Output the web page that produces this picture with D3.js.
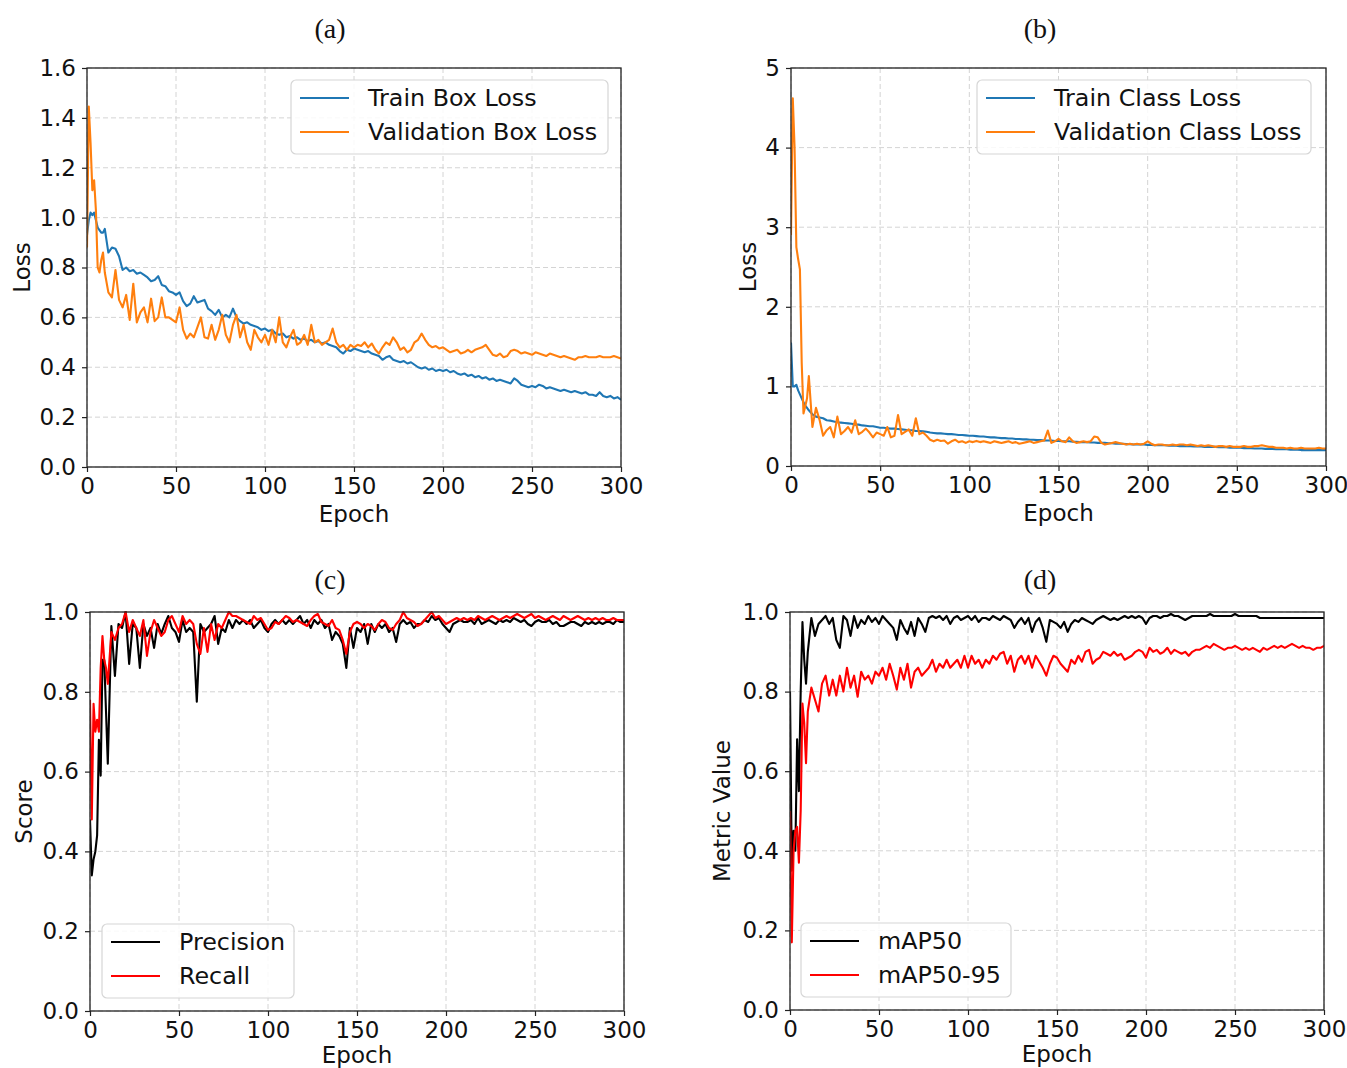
<!DOCTYPE html>
<html><head><meta charset="utf-8">
<script src="https://cdn.jsdelivr.net/npm/d3@7"></script>
<style>body{margin:0;background:#fff}svg{display:block}</style>
</head><body><svg id="c" width="1347" height="1068"></svg>
<script>
const EPOCHS = d3.range(0, 11).concat(d3.range(12, 301, 2));
const xTicks = [0, 50, 100, 150, 200, 250, 300];
const yTicksA = [0, 0.2, 0.4, 0.6, 0.8, 1.0, 1.2, 1.4, 1.6];
const yTicksB = [0, 1, 2, 3, 4, 5];
const yTicksCD = [0, 0.2, 0.4, 0.6, 0.8, 1.0];

const boxTrain = [0.93,0.99,1.02,1.01,1.02,0.99,0.96,0.95,0.94,0.94,0.955,
 0.86,0.88,0.875,0.845,0.79,0.80,0.785,0.79,0.775,0.78,
 0.77,0.76,0.745,0.75,0.765,0.73,0.725,0.705,0.70,0.69,
 0.70,0.665,0.645,0.655,0.685,0.66,0.665,0.67,0.635,0.625,
 0.61,0.63,0.60,0.61,0.60,0.635,0.60,0.585,0.575,0.58,
 0.57,0.565,0.56,0.55,0.555,0.545,0.55,0.535,0.53,0.535,
 0.52,0.525,0.515,0.52,0.51,0.515,0.505,0.51,0.50,0.505,
 0.495,0.50,0.49,0.485,0.48,0.465,0.455,0.47,0.465,0.475,
 0.47,0.465,0.46,0.465,0.455,0.45,0.445,0.43,0.44,0.445,
 0.43,0.425,0.42,0.425,0.415,0.42,0.41,0.40,0.395,0.40,
 0.39,0.395,0.385,0.39,0.385,0.39,0.38,0.385,0.375,0.37,
 0.375,0.365,0.37,0.36,0.365,0.355,0.36,0.35,0.355,0.345,
 0.35,0.345,0.34,0.335,0.355,0.345,0.33,0.325,0.32,0.325,
 0.32,0.33,0.325,0.315,0.32,0.315,0.31,0.305,0.31,0.305,
 0.30,0.305,0.30,0.295,0.30,0.29,0.29,0.285,0.30,0.285,
 0.28,0.285,0.275,0.28,0.27];

const boxVal = [0.88,1.445,1.30,1.11,1.15,1.03,0.80,0.78,0.83,0.86,0.78,
 0.70,0.68,0.79,0.67,0.64,0.69,0.59,0.735,0.58,0.62,
 0.64,0.58,0.675,0.585,0.60,0.68,0.60,0.60,0.59,0.58,
 0.64,0.55,0.515,0.535,0.52,0.56,0.60,0.52,0.515,0.57,
 0.51,0.55,0.61,0.53,0.50,0.57,0.61,0.52,0.57,0.50,
 0.47,0.55,0.52,0.50,0.53,0.49,0.55,0.50,0.60,0.50,
 0.48,0.52,0.55,0.49,0.50,0.53,0.49,0.57,0.50,0.51,
 0.49,0.50,0.51,0.555,0.50,0.48,0.49,0.47,0.49,0.48,
 0.49,0.485,0.50,0.48,0.495,0.47,0.455,0.48,0.50,0.49,
 0.52,0.50,0.47,0.48,0.46,0.47,0.50,0.51,0.535,0.51,
 0.49,0.48,0.485,0.475,0.48,0.47,0.46,0.465,0.47,0.455,
 0.46,0.47,0.46,0.47,0.475,0.48,0.49,0.47,0.45,0.445,
 0.455,0.44,0.445,0.465,0.47,0.465,0.455,0.46,0.455,0.45,
 0.46,0.455,0.45,0.445,0.455,0.45,0.445,0.44,0.445,0.44,
 0.435,0.43,0.44,0.44,0.445,0.44,0.44,0.44,0.445,0.44,
 0.44,0.44,0.445,0.44,0.435];

const clsTrain = [1.55,1.0,1.0,1.02,0.95,0.90,0.85,0.80,0.76,0.73,0.70,
 0.65,0.62,0.61,0.60,0.575,0.57,0.56,0.55,0.545,0.54,
 0.535,0.53,0.52,0.52,0.51,0.505,0.50,0.50,0.49,0.48,
 0.48,0.475,0.47,0.47,0.465,0.46,0.455,0.45,0.45,0.44,
 0.44,0.435,0.43,0.42,0.415,0.41,0.41,0.405,0.40,0.40,
 0.395,0.39,0.39,0.385,0.38,0.38,0.375,0.37,0.37,0.365,
 0.36,0.36,0.355,0.35,0.35,0.345,0.345,0.34,0.34,0.335,
 0.335,0.33,0.33,0.325,0.325,0.32,0.32,0.32,0.315,0.315,
 0.31,0.31,0.31,0.305,0.305,0.30,0.30,0.30,0.295,0.295,
 0.29,0.29,0.29,0.285,0.285,0.28,0.28,0.28,0.275,0.275,
 0.27,0.27,0.27,0.27,0.265,0.265,0.26,0.26,0.26,0.26,
 0.255,0.255,0.255,0.25,0.25,0.25,0.25,0.245,0.245,0.245,
 0.24,0.24,0.24,0.24,0.235,0.235,0.235,0.23,0.23,0.23,
 0.23,0.225,0.225,0.225,0.22,0.22,0.22,0.215,0.215,0.215,
 0.21,0.21,0.21,0.21,0.205,0.205,0.205,0.20,0.20,0.20,
 0.20,0.20,0.20,0.20,0.20];

const clsVal = [2.9,4.62,4.0,2.75,2.6,2.47,1.3,0.66,0.75,0.85,1.13,
 0.49,0.73,0.58,0.38,0.45,0.49,0.36,0.62,0.40,0.44,
 0.49,0.42,0.575,0.40,0.43,0.47,0.42,0.36,0.42,0.40,
 0.38,0.49,0.36,0.38,0.64,0.40,0.43,0.46,0.38,0.60,
 0.40,0.42,0.38,0.33,0.31,0.33,0.315,0.32,0.28,0.31,
 0.33,0.30,0.31,0.29,0.31,0.30,0.315,0.30,0.31,0.30,
 0.29,0.31,0.30,0.29,0.30,0.31,0.29,0.30,0.28,0.29,
 0.30,0.31,0.29,0.30,0.31,0.32,0.445,0.29,0.31,0.34,
 0.31,0.30,0.36,0.31,0.29,0.30,0.31,0.30,0.31,0.37,
 0.36,0.29,0.27,0.28,0.29,0.30,0.29,0.28,0.27,0.28,
 0.27,0.28,0.27,0.28,0.31,0.28,0.26,0.27,0.27,0.26,
 0.26,0.27,0.26,0.27,0.27,0.26,0.27,0.26,0.25,0.26,
 0.25,0.26,0.25,0.24,0.25,0.25,0.24,0.25,0.24,0.24,
 0.24,0.25,0.24,0.24,0.25,0.25,0.26,0.25,0.24,0.24,
 0.23,0.23,0.23,0.22,0.23,0.22,0.22,0.23,0.22,0.22,
 0.22,0.22,0.23,0.22,0.22];

const precision = [0.48,0.34,0.38,0.40,0.44,0.68,0.59,0.88,0.88,0.75,0.62,
 0.965,0.84,0.97,0.96,1.0,0.87,0.97,0.96,0.86,0.97,
 0.94,0.96,0.91,0.97,0.945,0.97,0.99,0.96,0.95,0.925,
 0.98,0.95,0.96,0.95,0.775,0.97,0.95,0.96,0.97,0.99,
 0.92,0.96,0.95,0.98,0.96,0.98,0.97,0.98,0.97,0.98,
 0.96,0.97,0.98,0.96,0.95,0.97,0.98,0.97,0.98,0.97,
 0.98,0.97,0.98,0.99,0.97,0.98,0.96,0.98,0.97,0.98,
 0.96,0.97,0.93,0.95,0.94,0.92,0.86,0.96,0.91,0.96,
 0.95,0.97,0.92,0.97,0.95,0.97,0.96,0.97,0.95,0.96,
 0.925,0.97,0.98,0.97,0.975,0.96,0.97,0.97,0.98,0.975,
 0.99,0.98,0.985,0.97,0.96,0.95,0.97,0.975,0.98,0.975,
 0.975,0.98,0.97,0.985,0.97,0.975,0.98,0.975,0.97,0.98,
 0.975,0.98,0.975,0.985,0.98,0.975,0.98,0.97,0.965,0.975,
 0.98,0.975,0.975,0.98,0.97,0.975,0.965,0.965,0.97,0.975,
 0.975,0.97,0.965,0.975,0.97,0.975,0.97,0.975,0.97,0.975,
 0.975,0.97,0.98,0.975,0.975];

const recall = [0.78,0.48,0.77,0.70,0.73,0.70,0.86,0.94,0.88,0.86,0.82,
 0.95,0.93,0.96,0.97,1.0,0.95,0.98,0.96,0.94,0.98,
 0.89,0.95,0.98,0.96,0.94,0.95,0.98,0.99,0.97,0.95,
 0.99,0.97,0.98,0.97,0.92,0.895,0.96,0.90,0.97,0.93,
 0.97,0.96,0.98,1.0,0.99,0.99,0.985,0.98,0.975,0.97,
 0.99,0.98,0.985,0.97,0.955,0.96,0.975,0.97,0.98,0.99,
 0.985,0.975,0.98,0.975,0.97,0.965,0.98,0.99,0.995,0.975,
 0.97,0.965,0.98,0.96,0.955,0.93,0.895,0.95,0.97,0.975,
 0.97,0.96,0.97,0.965,0.955,0.97,0.98,0.975,0.96,0.955,
 0.97,0.98,1.0,0.985,0.98,0.975,0.965,0.97,0.98,0.99,
 1.0,0.985,0.99,0.98,0.97,0.975,0.98,0.985,0.98,0.985,
 0.98,0.985,0.98,0.99,0.985,0.98,0.985,0.99,0.985,0.98,
 0.985,0.99,0.985,0.99,0.995,0.99,0.985,0.99,0.995,0.985,
 0.99,0.985,0.98,0.985,0.99,0.985,0.98,0.99,0.985,0.98,
 0.985,0.99,0.985,0.98,0.985,0.98,0.985,0.98,0.985,0.98,
 0.98,0.985,0.98,0.98,0.98];

const map50 = [0.80,0.35,0.45,0.40,0.68,0.55,0.80,0.975,0.88,0.82,0.90,
 0.985,0.94,0.97,0.98,0.99,0.97,0.985,0.93,0.91,0.99,
 0.98,0.94,0.99,0.96,0.98,0.97,0.99,0.975,0.985,0.97,
 0.99,0.98,0.97,0.96,0.93,0.98,0.96,0.945,0.975,0.94,
 0.985,0.97,0.95,0.985,0.99,0.985,0.99,0.98,0.99,0.97,
 0.985,0.99,0.98,0.985,0.99,0.98,0.99,0.975,0.985,0.985,
 0.98,0.99,0.985,0.98,0.99,0.985,0.98,0.96,0.975,0.985,
 0.97,0.985,0.95,0.975,0.985,0.96,0.925,0.98,0.975,0.97,
 0.96,0.975,0.95,0.97,0.98,0.975,0.985,0.98,0.975,0.97,
 0.98,0.985,0.99,0.985,0.98,0.985,0.98,0.985,0.99,0.985,
 0.99,0.985,0.99,0.985,0.97,0.985,0.99,0.99,0.985,0.99,
 0.99,0.995,0.99,0.99,0.985,0.98,0.985,0.99,0.99,0.99,
 0.99,0.99,0.995,0.99,0.99,0.99,0.99,0.99,0.99,0.995,
 0.99,0.99,0.99,0.99,0.99,0.99,0.985,0.985,0.985,0.985,
 0.985,0.985,0.985,0.985,0.985,0.985,0.985,0.985,0.985,0.985,
 0.985,0.985,0.985,0.985,0.985];

const map5095 = [0.50,0.17,0.40,0.45,0.46,0.37,0.50,0.77,0.72,0.62,0.75,
 0.81,0.78,0.75,0.82,0.84,0.79,0.83,0.79,0.84,0.80,
 0.86,0.81,0.84,0.787,0.85,0.83,0.84,0.82,0.85,0.84,
 0.86,0.83,0.87,0.84,0.805,0.86,0.83,0.87,0.81,0.85,
 0.86,0.84,0.85,0.86,0.88,0.85,0.87,0.86,0.88,0.86,
 0.87,0.88,0.86,0.89,0.86,0.89,0.87,0.88,0.86,0.88,
 0.87,0.89,0.88,0.895,0.90,0.87,0.89,0.85,0.88,0.89,
 0.87,0.89,0.86,0.89,0.875,0.86,0.84,0.87,0.89,0.885,
 0.87,0.86,0.85,0.88,0.87,0.89,0.875,0.90,0.905,0.87,
 0.88,0.885,0.90,0.895,0.89,0.90,0.89,0.895,0.88,0.885,
 0.89,0.90,0.905,0.90,0.885,0.91,0.90,0.905,0.895,0.90,
 0.91,0.895,0.905,0.90,0.895,0.90,0.89,0.90,0.905,0.905,
 0.91,0.915,0.91,0.92,0.915,0.91,0.905,0.91,0.91,0.915,
 0.91,0.905,0.91,0.905,0.91,0.905,0.90,0.91,0.905,0.91,
 0.915,0.91,0.915,0.91,0.915,0.92,0.915,0.91,0.915,0.91,
 0.91,0.905,0.91,0.91,0.915];

const panels = [
  {title: "(a)", tx: 330, ty: 38, l: 87, r: 621, t: 68, b: 467, yMax: 1.6, yTicks: yTicksA, fmt: d3.format(".1f"),
   ylabel: "Loss", ylx: 30, legend: {x: 291, y: 80, w: 317},
   series: [{name: "Train Box Loss", v: boxTrain, c: "#1f77b4"}, {name: "Validation Box Loss", v: boxVal, c: "#ff7f0e"}]},
  {title: "(b)", tx: 1040, ty: 38, l: 791, r: 1326, t: 68, b: 466, yMax: 5, yTicks: yTicksB, fmt: d3.format("d"),
   ylabel: "Loss", ylx: 756, legend: {x: 977, y: 80, w: 334},
   series: [{name: "Train Class Loss", v: clsTrain, c: "#1f77b4"}, {name: "Validation Class Loss", v: clsVal, c: "#ff7f0e"}]},
  {title: "(c)", tx: 330, ty: 589, l: 90, r: 624, t: 612, b: 1011, yMax: 1.0, yTicks: yTicksCD, fmt: d3.format(".1f"),
   ylabel: "Score", ylx: 32, legend: {x: 102, y: 924, w: 192},
   series: [{name: "Precision", v: precision, c: "#000000"}, {name: "Recall", v: recall, c: "#ff0000"}]},
  {title: "(d)", tx: 1040, ty: 589, l: 790, r: 1324, t: 612, b: 1010, yMax: 1.0, yTicks: yTicksCD, fmt: d3.format(".1f"),
   ylabel: "Metric Value", ylx: 730, legend: {x: 801, y: 923, w: 210},
   series: [{name: "mAP50", v: map50, c: "#000000"}, {name: "mAP50-95", v: map5095, c: "#ff0000"}]}
];

const svg = d3.select("#c");
const FONT = "'DejaVu Sans', sans-serif";
const AX = "#222";

panels.forEach((p, i) => {
  const x = d3.scaleLinear().domain([0, 300]).range([p.l, p.r]);
  const y = d3.scaleLinear().domain([0, p.yMax]).range([p.b, p.t]);
  const g = svg.append("g");

  // title
  g.append("text").attr("x", p.tx).attr("y", p.ty).attr("text-anchor", "middle")
    .attr("font-family", "'Liberation Serif', 'DejaVu Serif', serif").attr("font-size", 28).attr("fill", "#111").text(p.title);

  // grid
  const grid = g.append("g").attr("stroke", "#cfcfcf").attr("stroke-width", 0.9).attr("stroke-dasharray", "5,3");
  grid.selectAll(".gx").data(xTicks).enter().append("line")
    .attr("x1", d => x(d)).attr("x2", d => x(d)).attr("y1", p.t).attr("y2", p.b);
  grid.selectAll(".gy").data(p.yTicks).enter().append("line")
    .attr("x1", p.l).attr("x2", p.r).attr("y1", d => y(d)).attr("y2", d => y(d));

  // lines
  const cid = "clip" + i;
  svg.append("defs").append("clipPath").attr("id", cid).append("rect")
    .attr("x", p.l).attr("y", p.t - 1).attr("width", p.r - p.l).attr("height", p.b - p.t + 2);
  const line = d3.line().x((d, j) => x(EPOCHS[j])).y(d => y(d));
  p.series.forEach(s => {
    g.append("path").attr("clip-path", `url(#${cid})`).datum(s.v.slice(0, EPOCHS.length))
      .attr("fill", "none").attr("stroke", s.c).attr("stroke-width", 2.1).attr("stroke-linejoin", "round")
      .attr("d", line);
  });

  // axes
  const xa = g.append("g").attr("transform", `translate(0,${p.b})`)
    .call(d3.axisBottom(x).tickValues(xTicks).tickSize(5).tickPadding(5).tickFormat(d3.format("d")));
  const ya = g.append("g").attr("transform", `translate(${p.l},0)`)
    .call(d3.axisLeft(y).tickValues(p.yTicks).tickSize(5).tickPadding(6).tickFormat(p.fmt));
  [xa, ya].forEach(a => {
    a.select(".domain").remove();
    a.selectAll("line").attr("stroke", AX).attr("stroke-width", 1.2);
    a.selectAll("text").attr("font-family", FONT).attr("font-size", 23).attr("fill", "#111");
  });
  xa.selectAll("text").attr("dy", null).attr("y", 27);

  // frame
  g.append("rect").attr("x", p.l).attr("y", p.t).attr("width", p.r - p.l).attr("height", p.b - p.t)
    .attr("fill", "none").attr("stroke", AX).attr("stroke-width", 1.3);

  // axis labels
  const bottomRow = p.b > 900;
  g.append("text").attr("x", (p.l + p.r) / 2).attr("y", p.b + (bottomRow ? 52 : 55)).attr("text-anchor", "middle")
    .attr("font-family", FONT).attr("font-size", 23).attr("fill", "#111").text("Epoch");
  g.append("text").attr("transform", `translate(${p.ylx},${(p.t + p.b) / 2}) rotate(-90)`).attr("text-anchor", "middle")
    .attr("font-family", FONT).attr("font-size", 23).attr("fill", "#111").text(p.ylabel);

  // legend
  const L = p.legend;
  const lg = g.append("g");
  lg.append("rect").attr("x", L.x).attr("y", L.y).attr("width", L.w).attr("height", 74).attr("rx", 5)
    .attr("fill", "#fff").attr("fill-opacity", 0.85).attr("stroke", "#d6d6d6").attr("stroke-width", 1.2);
  p.series.forEach((s, k) => {
    const yy = L.y + 18 + k * 34;
    lg.append("line").attr("x1", L.x + 9).attr("x2", L.x + 58).attr("y1", yy).attr("y2", yy)
      .attr("stroke", s.c).attr("stroke-width", 2.1);
    lg.append("text").attr("x", L.x + 77).attr("y", yy + 8).attr("font-family", FONT).attr("font-size", 23.8)
      .attr("fill", "#111").text(s.name);
  });
});
</script></body></html>
